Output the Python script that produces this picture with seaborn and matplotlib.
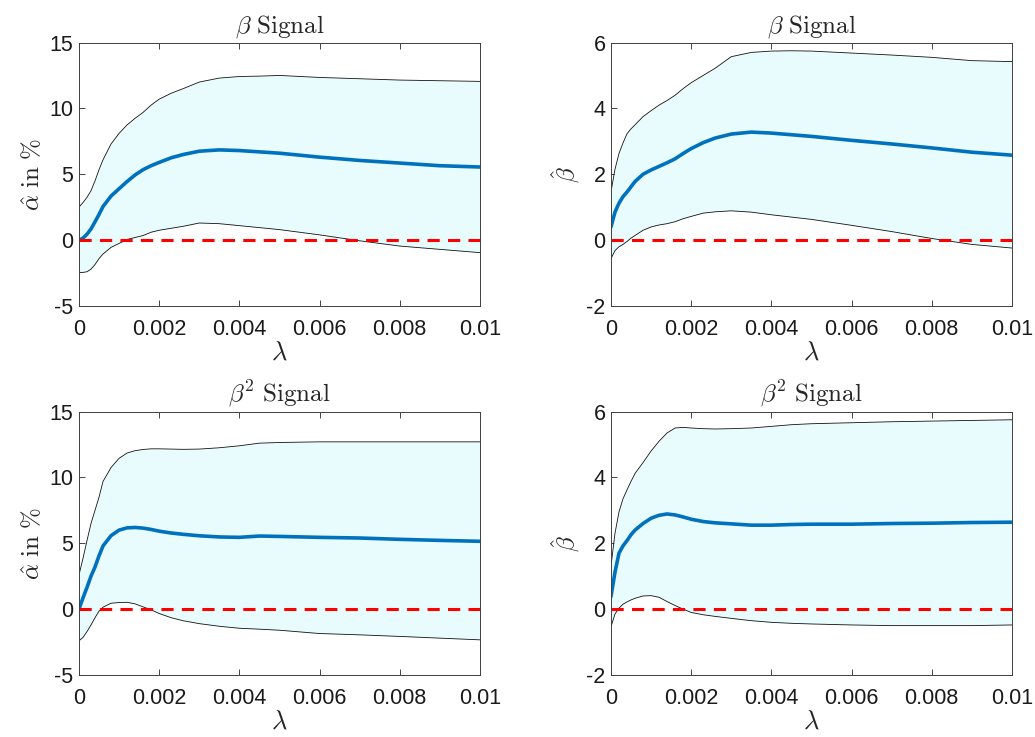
import numpy as np
import matplotlib
matplotlib.use("Agg")
import matplotlib.pyplot as plt
import seaborn as sns

# lambda grid shared by all panels
lam = [0, 0.0001, 0.0002, 0.0003, 0.0004, 0.0005, 0.0006, 0.0008, 0.001, 0.0012,
       0.0014, 0.0016, 0.0018, 0.002, 0.0023, 0.0026, 0.003, 0.0035, 0.004, 0.0045,
       0.005, 0.006, 0.007, 0.008, 0.009, 0.01]

# beta signal, alpha hat (%)
a1_mean = [0, 0.15, 0.45, 0.85, 1.39, 1.95, 2.55, 3.35, 3.9, 4.45, 4.95, 5.35, 5.65,
           5.9, 6.25, 6.5, 6.75, 6.85, 6.8, 6.7, 6.6, 6.3, 6.05, 5.85, 5.65, 5.55]
a1_up = [2.5, 2.85, 3.25, 3.75, 4.5, 5.35, 6.1, 7.3, 8.1, 8.75, 9.25, 9.7, 10.25,
         10.7, 11.15, 11.5, 12.0, 12.3, 12.42, 12.45, 12.5, 12.35, 12.25, 12.15, 12.1, 12.05]
a1_lo = [-2.45, -2.45, -2.4, -2.2, -1.85, -1.4, -1.05, -0.55, -0.25, 0.05, 0.2, 0.35, 0.6,
         0.75, 0.9, 1.05, 1.3, 1.25, 1.1, 0.95, 0.8, 0.4, -0.05, -0.45, -0.7, -0.95]

# beta signal, beta hat
b1_mean = [0.4, 0.85, 1.12, 1.32, 1.46, 1.62, 1.78, 2.0, 2.13, 2.24, 2.35, 2.47, 2.63,
           2.78, 2.96, 3.1, 3.22, 3.28, 3.25, 3.2, 3.15, 3.03, 2.92, 2.8, 2.67, 2.58]
b1_up = [1.46, 2.15, 2.63, 2.95, 3.23, 3.38, 3.5, 3.75, 3.93, 4.1, 4.24, 4.4, 4.6,
         4.78, 5.0, 5.22, 5.57, 5.7, 5.74, 5.75, 5.74, 5.68, 5.62, 5.55, 5.45, 5.42]
b1_lo = [-0.56, -0.32, -0.2, -0.13, -0.04, 0.06, 0.14, 0.3, 0.4, 0.46, 0.5, 0.56, 0.65,
         0.72, 0.82, 0.86, 0.89, 0.85, 0.77, 0.7, 0.63, 0.45, 0.26, 0.05, -0.13, -0.24]

# beta^2 signal, alpha hat (%)
a2_mean = [0, 0.85, 1.65, 2.5, 3.2, 4.05, 4.8, 5.58, 6.0, 6.17, 6.2, 6.15, 6.05,
           5.92, 5.78, 5.68, 5.57, 5.48, 5.45, 5.55, 5.52, 5.45, 5.4, 5.3, 5.22, 5.15]
a2_up = [2.59, 3.85, 5.2, 6.5, 7.5, 8.5, 9.7, 10.75, 11.45, 11.85, 12.03, 12.12, 12.17,
         12.17, 12.15, 12.13, 12.15, 12.25, 12.4, 12.6, 12.65, 12.7, 12.7, 12.7, 12.7, 12.7]
a2_lo = [-2.4, -2.15, -1.7, -1.2, -0.65, -0.15, 0.15, 0.45, 0.5, 0.52, 0.4, 0.17, -0.05,
         -0.33, -0.65, -0.88, -1.1, -1.3, -1.45, -1.52, -1.6, -1.85, -1.95, -2.07, -2.2, -2.33]

# beta^2 signal, beta hat
b2_mean = [0.38, 1.12, 1.7, 1.92, 2.08, 2.26, 2.4, 2.6, 2.76, 2.85, 2.89, 2.86, 2.8,
           2.73, 2.66, 2.62, 2.59, 2.55, 2.55, 2.57, 2.58, 2.58, 2.6, 2.61, 2.63, 2.64]
b2_up = [1.3, 2.3, 2.95, 3.35, 3.62, 3.88, 4.12, 4.45, 4.8, 5.1, 5.35, 5.5, 5.52,
         5.5, 5.48, 5.47, 5.48, 5.5, 5.55, 5.6, 5.63, 5.66, 5.69, 5.71, 5.73, 5.75]
b2_lo = [-0.54, -0.15, 0.03, 0.15, 0.22, 0.28, 0.33, 0.4, 0.41, 0.36, 0.23, 0.11, 0.0,
         -0.1, -0.17, -0.22, -0.28, -0.35, -0.4, -0.43, -0.45, -0.48, -0.5, -0.5, -0.5, -0.48]

x_ticks = [0, 0.002, 0.004, 0.006, 0.008, 0.01]
x_ticklabels = ["0", "0.002", "0.004", "0.006", "0.008", "0.01"]
alpha_ticks = [-5, 0, 5, 10, 15]
beta_ticks = [-2, 0, 2, 4, 6]

titles = [r"$\beta\ \mathrm{Signal}$", r"$\beta\ \mathrm{Signal}$",
          r"$\beta^2\ \mathrm{Signal}$", r"$\beta^2\ \mathrm{Signal}$"]
ylabels = [r"$\hat{\alpha}\ \mathrm{in}\ \%$", r"$\hat{\beta}$",
           r"$\hat{\alpha}\ \mathrm{in}\ \%$", r"$\hat{\beta}$"]

sns.set_theme(style="white")
plt.rcParams["font.family"] = ["Liberation Sans", "DejaVu Sans"]
plt.rcParams["mathtext.fontset"] = "cm"
plt.rcParams["xtick.direction"] = "in"
plt.rcParams["ytick.direction"] = "in"

fig = plt.figure(figsize=(10.35, 7.37), dpi=100)
lefts = [0.0763, 0.5903, 0.0763, 0.5903]
bottoms = [0.5848, 0.5848, 0.0841, 0.0841]
w, h = 0.3874, 0.3575

panels = [(a1_mean, a1_up, a1_lo, alpha_ticks),
          (b1_mean, b1_up, b1_lo, beta_ticks),
          (a2_mean, a2_up, a2_lo, alpha_ticks),
          (b2_mean, b2_up, b2_lo, beta_ticks)]

for i, (mean, up, lo, yt) in enumerate(panels):
    ax = fig.add_axes([lefts[i], bottoms[i], w, h])
    ax.fill_between(lam, lo, up, color="#e8fcfe", lw=0)
    sns.lineplot(x=lam, y=up, ax=ax, color="#111111", lw=0.6)
    sns.lineplot(x=lam, y=lo, ax=ax, color="#111111", lw=0.6)
    sns.lineplot(x=lam, y=mean, ax=ax, color="#0072BD", lw=2.6)
    ax.axhline(0, color="red", ls=(0, (4, 2.7)), lw=2.2)
    ax.set_xlim(0, 0.01)
    ax.set_ylim(yt[0], yt[-1])
    ax.set_xticks(x_ticks)
    ax.set_xticklabels(x_ticklabels)
    ax.set_yticks(yt)
    ax.set_yticklabels([str(t) for t in yt])
    ax.tick_params(axis="both", labelsize=15.5, colors="#262626", length=4,
                   width=0.6, top=True, right=True, bottom=True, left=True,
                   labelcolor="#1a1a1a")
    ax.tick_params(axis="x", pad=9)
    ax.tick_params(axis="y", pad=4)
    for s in ax.spines.values():
        s.set_color("#404040")
        s.set_linewidth(0.7)
    ax.set_title(titles[i], fontsize=18, pad=7)
    ax.set_xlabel(r"$\lambda$", fontsize=19, labelpad=1)
    ax.set_ylabel(ylabels[i], fontsize=18, labelpad=3)

fig.savefig("out.png", dpi=100, facecolor="white")
